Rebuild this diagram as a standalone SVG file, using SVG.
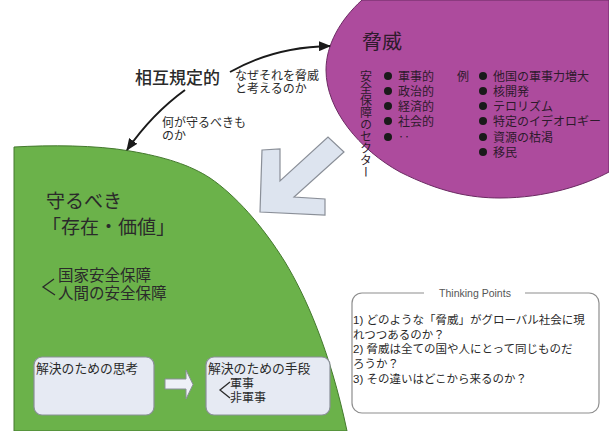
<svg xmlns="http://www.w3.org/2000/svg" width="609" height="431" viewBox="0 0 609 431">
<style>
text{font-family:"Liberation Sans","Noto Sans CJK JP",sans-serif;fill:#2a2a2a}
.jp{font-family:"Noto Sans CJK JP","Liberation Sans",sans-serif}
.pl{fill:#2e1a2c;font-size:12px}
.box{fill:#e6eaf3;stroke:#8a8f98;stroke-width:1.2}
.con{fill:none;stroke:#1a1a1a;stroke-width:2}
.chev{fill:none;stroke:#2a2a2a;stroke-width:1.3}
.dot{fill:#1a1a1a}
</style>
<defs>
<marker id="ah" markerUnits="userSpaceOnUse" markerWidth="12" markerHeight="10" refX="11" refY="5" orient="auto">
<path d="M0,0 L12,5 L0,10 Z" fill="#1a1a1a"/>
</marker>
</defs>
<rect width="609" height="431" fill="#ffffff"/>

<g id="threat">
<path d="M362,0 C340,20 326,45 326,70 C326,110 360,150 400,172 C440,192 470,198 500,198 C545,198 585,185 609,172 L609,0 Z" fill="#ad4b9d" stroke="#6b2a62" stroke-width="1"/>
<text class="jp" x="362" y="49" font-size="20" style="fill:#2e1a2c">脅威</text>
<text class="jp pl" x="366" y="70" style="writing-mode:vertical-rl">安全保障のセクター</text>
<circle class="dot" cx="388" cy="76" r="4"/><text class="jp pl" x="398" y="80.5">軍事的</text>
<circle class="dot" cx="388" cy="91" r="4"/><text class="jp pl" x="398" y="95.5">政治的</text>
<circle class="dot" cx="388" cy="106" r="4"/><text class="jp pl" x="398" y="110.5">経済的</text>
<circle class="dot" cx="388" cy="121" r="4"/><text class="jp pl" x="398" y="125.5">社会的</text>
<circle class="dot" cx="388" cy="137" r="4"/><text class="jp pl" x="398" y="141.5">‥</text>
<text class="jp pl" x="457" y="80.5">例</text>
<circle class="dot" cx="483" cy="76" r="4"/><text class="jp pl" x="493" y="80.5">他国の軍事力増大</text>
<circle class="dot" cx="483" cy="91" r="4"/><text class="jp pl" x="493" y="95.5">核開発</text>
<circle class="dot" cx="483" cy="106" r="4"/><text class="jp pl" x="493" y="110.5">テロリズム</text>
<circle class="dot" cx="483" cy="121" r="4"/><text class="jp pl" x="493" y="125.5">特定のイデオロギー</text>
<circle class="dot" cx="483" cy="137" r="4"/><text class="jp pl" x="493" y="141.5">資源の枯渇</text>
<circle class="dot" cx="483" cy="152" r="4"/><text class="jp pl" x="493" y="156.5">移民</text>
</g>

<g id="protect">
<path d="M14,431 L14,147 C50,145 95,145 130,151 C165,157 190,165 210,178 C235,195 262,225 285,262 C305,295 330,350 347,431 Z" fill="#6bb24a" stroke="#44792e" stroke-width="1"/>
<text class="jp" x="46" y="208" font-size="19">守るべき</text>
<text class="jp" x="42" y="234" font-size="19">「存在・価値」</text>
<polyline class="chev" points="54,279 43,287 55,295"/>
<text class="jp" x="58" y="281" font-size="15.5">国家安全保障</text>
<text class="jp" x="58" y="299" font-size="15.5">人間の安全保障</text>
</g>

<g id="mutual">
<text class="jp" x="135" y="84" font-size="17" font-weight="500">相互規定的</text>
</g>

<g id="labels">
<text class="jp" x="235" y="80" font-size="12">なぜそれを脅威</text>
<text class="jp" x="235" y="93" font-size="12">と考えるのか</text>
<text class="jp" x="162" y="127" font-size="12">何が守るべきも</text>
<text class="jp" x="162" y="140" font-size="12">のか</text>
</g>

<g id="bigarrow">
<polygon points="262,150 280,149 280,181 328,137 344,152 294,197 325,199 325,215 260,212" fill="#dde4ef" stroke="#8a8f98" stroke-width="1.2"/>
</g>

<g id="thinking">
<rect class="box" x="34" y="357" width="120" height="58" rx="8"/>
<text class="jp" x="36" y="373" font-size="12.8">解決のための思考</text>
</g>

<g id="means">
<rect class="box" x="206" y="357" width="124" height="58" rx="8"/>
<text class="jp" x="208" y="373" font-size="12.8">解決のための手段</text>
<polyline class="chev" points="230,382 220,390 230,398"/>
<text class="jp" x="230" y="388" font-size="12">軍事</text>
<text class="jp" x="230" y="402" font-size="12">非軍事</text>
</g>

<g id="points">
<rect x="352" y="293" width="247" height="120" rx="10" fill="#ffffff" stroke="#8e8e8e" stroke-width="1.2"/>
<rect x="424" y="287" width="101" height="12" fill="#ffffff"/>
<text x="475" y="297" font-size="10.5" text-anchor="middle" style="fill:#555">Thinking Points</text>
<text x="353" y="324" font-size="11.5">1) どのような「脅威」がグローバル社会に現</text>
<text x="353" y="339" font-size="11.5">れつつあるのか？</text>
<text x="353" y="353" font-size="11.5">2) 脅威は全ての国や人にとって同じものだ</text>
<text x="353" y="368" font-size="11.5">ろうか？</text>
<text x="353" y="383" font-size="11.5">3) その違いはどこから来るのか？</text>
</g>

<g id="connectors">
<path class="con" d="M230,72 Q274,47 330,46" marker-end="url(#ah)"/>
<path class="con" d="M185,90 Q152,114 127,150" marker-end="url(#ah)"/>
<path d="M165,379 L186,379 L186,370 L193,384.5 L186,399 L186,389 L165,389 Z" fill="#eef1f7" stroke="#8a8f98" stroke-width="1"/>
</g>
</svg>
